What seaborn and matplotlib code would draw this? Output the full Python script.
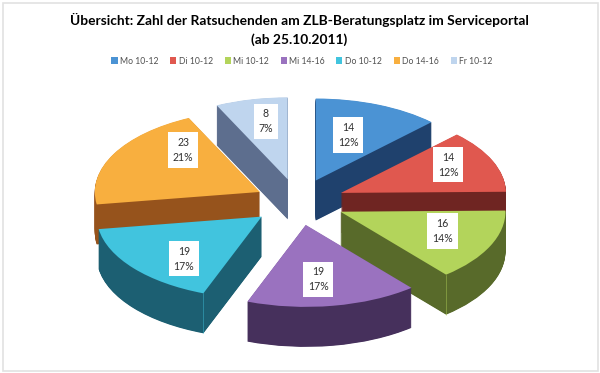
import matplotlib
matplotlib.use('Agg')
import matplotlib.pyplot as plt
from matplotlib.patches import Wedge, Rectangle
import numpy as np
import seaborn as sns

sns.set_theme(style='white')
plt.rcParams['font.family'] = ['Lato', 'DejaVu Sans']

slots = ['Mo 10-12', 'Di 10-12', 'Mi 10-12', 'Mi 14-16', 'Do 10-12', 'Do 14-16', 'Fr 10-12']
counts = [14, 14, 16, 19, 19, 23, 8]
percents = [12, 12, 14, 17, 17, 21, 7]
top_cols = ['#4b93d4', '#e0584f', '#b3d45b', '#9a72bf', '#41c4de', '#f8af3f', '#bfd5ee']
side_cols = ['#1f416d', '#6f2522', '#586a2a', '#46305c', '#1c5f72', '#96531c', '#5d6e8e']

w, h = 600, 373
rx, ry = 165, 82  # pie radius in pixels, squashed
cx, cy = 298, 202  # pie centre in pixels from top left
depth = 40
explode = [0.283, 0.283, 0.283, 0.283, 0.283, 0.262, 0.283]
draw_order = [6, 0, 5, 1, 4, 2, 3]  # back to front
# small shift of the number boxes, pixels
nudge = [(-5, 0), (16, -9), (12, -1), (-4, 6), (-1, 11), (11, -19), (0, -10)]

fig = plt.figure(figsize=(w / 100, h / 100), dpi=100, facecolor='white')
ax = fig.add_axes([0, 0, 1, 1])

wedges, _, autos = ax.pie(counts, explode=explode, colors=top_cols, startangle=90,
                          counterclock=False, autopct='%d', pctdistance=0.6, radius=1)
ax.set_aspect('auto')
ax.set_xlim(-cx / rx, (w - cx) / rx)
ax.set_ylim(-(h - cy) / ry, cy / ry)
ax.axis('off')

for rank, i in enumerate(draw_order):
    wd = wedges[i]
    z = 2 + rank * 2
    # extrusion: same wedge stacked downwards
    for d in range(depth * 2, 0, -1):
        ax.add_patch(Wedge((wd.center[0], wd.center[1] - d / 2 / ry), wd.r, wd.theta1, wd.theta2,
                           fc=side_cols[i], ec='none', lw=0, zorder=z))
    wd.set_zorder(z + 1)
    wd.set_edgecolor('none')

# thin light edge where cut face meets the curved wall
for i, ang in [(4, wedges[4].theta2), (2, wedges[2].theta1)]:
    wd = wedges[i]
    ex = wd.center[0] + wd.r * np.cos(np.radians(ang))
    ey = wd.center[1] + wd.r * np.sin(np.radians(ang))
    ax.plot([ex, ex], [ey, ey - depth / ry], color=top_cols[i], lw=0.6, alpha=0.5, zorder=20)

for i, t in enumerate(autos):
    x, y = t.get_position()
    t.set_position((x + nudge[i][0] / rx, y - nudge[i][1] / ry))
    t.set_text(f'{counts[i]}\n{percents[i]}%')
    t.set(fontsize=7.6, color='#303030', zorder=30, linespacing=1.45, ha='center', va='center')
    t.set_bbox(dict(fc='white', ec='none', pad=3.4))

# chart frame
fig.add_artist(Rectangle((2.5 / w, 2.5 / h), 595 / w, 368 / h, transform=fig.transFigure,
                         fc='none', ec='#e2e2e2', lw=1.2))

fig.text(299 / w, 1 - 20 / h, 'Übersicht: Zahl der Ratsuchenden am ZLB-Beratungsplatz im Serviceportal',
         ha='center', va='center', fontsize=9.95, fontweight='bold', color='black')
fig.text(299 / w, 1 - 40 / h, '(ab 25.10.2011)', ha='center', va='center', fontsize=9.95,
         fontweight='bold', color='black')

handles = [Rectangle((0, 0), 1, 1, fc=c, ec='none') for c in top_cols]
fig.legend(handles, slots, loc='center', bbox_to_anchor=(302 / w, 1 - 61 / h), ncol=7, frameon=False,
           fontsize=6.2, handlelength=0.7, handleheight=0.7, handletextpad=0.3, columnspacing=1.35,
           labelcolor='#505050')

fig.savefig('out.png', dpi=100)
